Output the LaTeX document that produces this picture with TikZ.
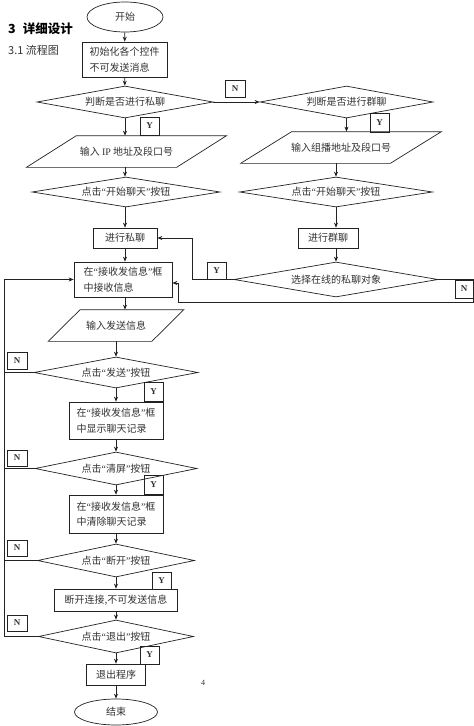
\documentclass[tikz,border=0pt]{standalone}
\usepackage{fontspec}
\setmainfont{Liberation Serif}
\newfontfamily\cjk{Noto Sans CJK SC}
\usetikzlibrary{shapes.geometric,arrows.meta,calc}
\definecolor{ink}{HTML}{222222}
\definecolor{txt}{HTML}{333333}
\newcommand\qopen{{\rmfamily “}}
\newcommand\qclose{{\rmfamily ”}}
\begin{document}
\begin{tikzpicture}[x=1pt,y=-1pt,
  base/.style={draw=ink, line width=0.7pt, inner sep=0pt, text=txt,
    font=\cjk\fontsize{10}{15.5}\selectfont},
  proc/.style={base, rectangle},
  dec/.style={base, diamond, aspect=9},
  term/.style={base, ellipse},
  iobox/.style={base, draw=none, rectangle},
  lbl/.style={draw=ink, line width=0.7pt, rectangle, inner sep=0pt, text=txt,
    font=\rmfamily\bfseries\fontsize{9}{9}\selectfont},
  flow/.style={draw=ink, line width=0.7pt, -{Stealth[length=5pt,width=4pt]}},
  plain/.style={draw=ink, line width=0.7pt},
  shp/.style={draw=ink, line width=0.7pt}
]
\useasboundingbox (0,0) rectangle (474,726);
\fill[white] (0,0) rectangle (474,726);

% titles
\node[anchor=west, inner sep=0pt, text=black, font=\cjk\bfseries\fontsize{12.5}{12.5}\selectfont] (title) at (8,29) {3\hspace{7pt}详细设计};
\node[anchor=west, inner sep=0pt, text=txt, font=\cjk\fontsize{11}{11}\selectfont] (sub) at (8,50) {3.1 流程图};
\node[inner sep=0pt, text=txt, font=\rmfamily\fontsize{8}{8}\selectfont] (pg) at (203,683) {4};

% upper main column
\node[term, minimum width=76, minimum height=30] (start) at (125,17) {开始};
\node[proc, minimum width=85, minimum height=35, align=left] (init) at (124.5,59.5) {初始化各个控件\\不可发送消息};
\node[dec, minimum width=176, minimum height=32] (d1) at (125,102) {判断是否进行私聊};
\node[iobox, minimum width=149.5, minimum height=31] (ip) at (126.5,151.5) {输入 {\rmfamily IP} 地址及段口号};
\draw[shp] ([xshift=-25]ip.south west) -- ([xshift=-25]ip.south east) -- ([xshift=25]ip.north east) -- ([xshift=25]ip.north west) -- cycle;
\node[dec, minimum width=188, minimum height=30] (d3) at (126,192) {点击\qopen 开始聊天\qclose 按钮};
\node[proc, minimum width=64, minimum height=20] (sq) at (125,238) {进行私聊};
\node[proc, minimum width=98, minimum height=35, align=left] (recv) at (123,279.5) {在\qopen 接收发信息\qclose 框\\中接收信息};

% right column
\node[dec, minimum width=173, minimum height=32] (d2) at (346.5,102) {判断是否进行群聊};
\node[iobox, minimum width=149, minimum height=31] (gp) at (341,147.5) {输入组播地址及段口号};
\draw[shp] ([xshift=-25.5]gp.south west) -- ([xshift=-25.5]gp.south east) -- ([xshift=25.5]gp.north east) -- ([xshift=25.5]gp.north west) -- cycle;
\node[dec, minimum width=193, minimum height=30] (d4) at (336,192) {点击\qopen 开始聊天\qclose 按钮};
\node[proc, minimum width=60, minimum height=20] (gq) at (328,238) {进行群聊};
\node[dec, minimum width=204, minimum height=35] (d5) at (336,279.5) {选择在线的私聊对象};

% lower main column
\node[iobox, minimum width=103, minimum height=31] (send) at (116,325.5) {输入发送信息};
\draw[shp] ([xshift=-16]send.south west) -- ([xshift=-16]send.south east) -- ([xshift=16]send.north east) -- ([xshift=16]send.north west) -- cycle;
\node[dec, minimum width=164, minimum height=31] (d6) at (116,372.5) {点击\qopen 发送\qclose 按钮};
\node[proc, minimum width=94, minimum height=37, align=left] (show) at (116,420.5) {在\qopen 接收发信息\qclose 框\\中显示聊天记录};
\node[dec, minimum width=162, minimum height=33] (d7) at (116,468.5) {点击\qopen 清屏\qclose 按钮};
\node[proc, minimum width=94, minimum height=38, align=left] (clr) at (116,514) {在\qopen 接收发信息\qclose 框\\中清除聊天记录};
\node[dec, minimum width=157, minimum height=33] (d8) at (116,560.5) {点击\qopen 断开\qclose 按钮};
\node[proc, minimum width=123, minimum height=22] (disc) at (116,600) {断开连接,不可发送信息};
\node[dec, minimum width=155, minimum height=33] (d9) at (116,636.5) {点击\qopen 退出\qclose 按钮};
\node[proc, minimum width=59, minimum height=21] (quit) at (116,674.5) {退出程序};
\node[term, minimum width=83, minimum height=26] (end) at (116,712) {结束};

% Y / N labels
\node[lbl, minimum width=20, minimum height=17] (n1) at (235,88.5) {N};
\node[lbl, minimum width=19, minimum height=18] (y1) at (149.5,126) {Y};
\node[lbl, minimum width=19, minimum height=19] (y2) at (379.5,122.5) {Y};
\node[lbl, minimum width=19, minimum height=17] (y3) at (216.5,270.5) {Y};
\node[lbl, minimum width=18, minimum height=18] (n2) at (464,289) {N};
\node[lbl, minimum width=20, minimum height=17] (n3) at (17,360.5) {N};
\node[lbl, minimum width=19, minimum height=19] (y4) at (153.5,391.5) {Y};
\node[lbl, minimum width=20, minimum height=16] (n4) at (17,458) {N};
\node[lbl, minimum width=19, minimum height=19] (y5) at (153.5,484.5) {Y};
\node[lbl, minimum width=20, minimum height=16] (n5) at (17,548) {N};
\node[lbl, minimum width=19, minimum height=17] (y6) at (161.5,580.5) {Y};
\node[lbl, minimum width=20, minimum height=16] (n6) at (17,623) {N};
\node[lbl, minimum width=19, minimum height=18] (y7) at (149.5,655) {Y};

% helper coordinates
\coordinate (lx) at (4,0);
\coordinate (yx) at (192,0);
\coordinate (rx) at (473,0);
\coordinate (bx) at (178,302);

% upper column flow
\draw[flow] (start) -- (init);
\draw[flow] (init) -- (d1);
\draw[flow] (d1.south) -- (d1.south |- ip.north);
\draw[flow] (d1.south |- ip.south) -- (d1.south |- d3.north);
\draw[flow] (d3.south) -- (d3.south -| sq) -- (sq.north);
\draw[flow] (sq.south) -- (sq.south |- recv.north);
\draw[flow] (d1.east) -- (d2.west);
% right column flow
\draw[flow] (d2.south) -- (d2.south |- gp.north);
\draw[flow] (d4.north |- gp.south) -- (d4.north);
\draw[flow] (d4.south) -- (d4.south |- gq.north);
\draw[flow] (d4.south |- gq.south) -- (d5.north);
% private-chat choice
\draw[flow] (d5.west) -- (d5.west -| yx) -- (yx |- sq.east) -- (sq.east);
\draw[flow] (d5.east) -- (d5.east -| rx) -- (rx |- bx) -- (bx) -- (bx |- {$(recv.east)+(0,3.5)$}) -- ($(recv.east)+(0,3.5)$);
% lower column flow
\draw[flow] (sq.south |- recv.south) -- (sq.south |- send.north);
\draw[flow] (send.south) -- (d6.north);
\draw[flow] (d6) -- (show);
\draw[flow] (show) -- (d7);
\draw[flow] (d7) -- (clr);
\draw[flow] (clr) -- (d8);
\draw[flow] (d8) -- (disc);
\draw[flow] (disc) -- (d9);
\draw[flow] (d9) -- (quit);
\draw[flow] (quit) -- (end);
% N loop back on the left
\draw[plain] (d6.west) -- (d6.west -| lx);
\draw[plain] (d7.west) -- (d7.west -| lx);
\draw[plain] (d8.west) -- (d8.west -| lx);
\draw[flow] (d9.west) -- (d9.west -| lx) -- (lx |- recv.west) -- (recv.west);
\end{tikzpicture}
\end{document}
